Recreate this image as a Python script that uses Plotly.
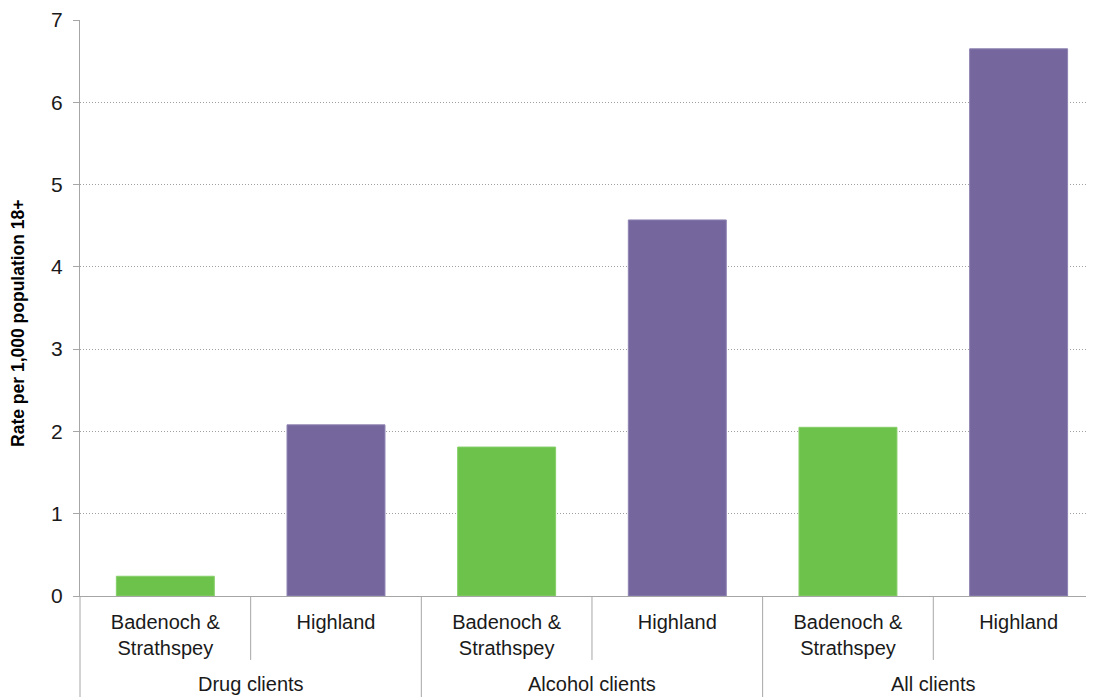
import plotly.graph_objects as go

groups = ["Drug clients", "Alcohol clients", "All clients"]
areas = ["Badenoch &<br>Strathspey", "Highland"] * 3
rates = [0.24, 2.08, 1.81, 4.57, 2.05, 6.65]
colors = ["#6CC24A", "#75679E"] * 3
line_colors = ["#86CF69", "#8E82B2"] * 3
y_ticks = [0, 1, 2, 3, 4, 5, 6, 7]
y_title = "Rate per 1,000 population 18+"

pos = list(range(len(rates)))
AX = "#A6A6A6"

fig = go.Figure(go.Bar(
    x=pos, y=rates,
    marker=dict(color=colors, line=dict(color=line_colors, width=1)),
    width=0.574,
))

fig.update_layout(
    width=1086, height=689,
    margin=dict(l=72, r=2, t=12, b=101),
    paper_bgcolor="white", plot_bgcolor="white",
    font=dict(family="Liberation Sans, Arial, sans-serif", size=20, color="#000000"),
    showlegend=False,
)
fig.update_yaxes(
    range=[0, 7], tickvals=y_ticks, automargin=False,
    showgrid=True, gridcolor="#A0A0A0", griddash="1px,2px", gridwidth=1,
    showline=True, linecolor=AX, linewidth=1,
    ticks="outside", ticklen=6, tickcolor=AX,
    tickfont=dict(size=21, color="#1a1a1a"), zeroline=False, ticklabelstandoff=6,
)
# the original chart runs slightly past the right edge of the picture
fig.update_xaxes(
    range=[-0.5, 5.43], automargin=False,
    tickvals=pos, ticktext=areas, tickangle=0,
    showline=True, linecolor=AX, linewidth=1,
    showgrid=False, zeroline=False,
    ticks="", ticklabelstandoff=8,
    tickfont=dict(size=20, color="#1a1a1a"),
)

# y-axis title
fig.add_annotation(text="<b>" + y_title + "</b>", textangle=-90,
                   xref="paper", yref="paper", x=0, y=0.474, xshift=-62,
                   xanchor="center", yanchor="middle", showarrow=False,
                   font=dict(size=17.5))

# group labels and separators
for gi, g in enumerate(groups):
    center = gi * 2 + 0.5
    fig.add_annotation(text=g, xref="x", yref="paper", x=center, y=-0.152,
                       xanchor="center", yanchor="middle", showarrow=False,
                       font=dict(size=20, color="#1a1a1a"))
    # short divider between the two areas in the group
    fig.add_shape(type="line", xref="x", yref="paper", x0=center, x1=center,
                  y0=0, y1=-0.111, line=dict(color=AX, width=1))
    if gi > 0:
        b = gi * 2 - 0.5
        fig.add_shape(type="line", xref="x", yref="paper", x0=b, x1=b,
                      y0=0, y1=-0.18, line=dict(color=AX, width=1))

fig.add_shape(type="line", xref="paper", yref="paper", x0=0, x1=0, y0=0, y1=-0.18,
              line=dict(color=AX, width=1))

fig.write_html("out.html")
